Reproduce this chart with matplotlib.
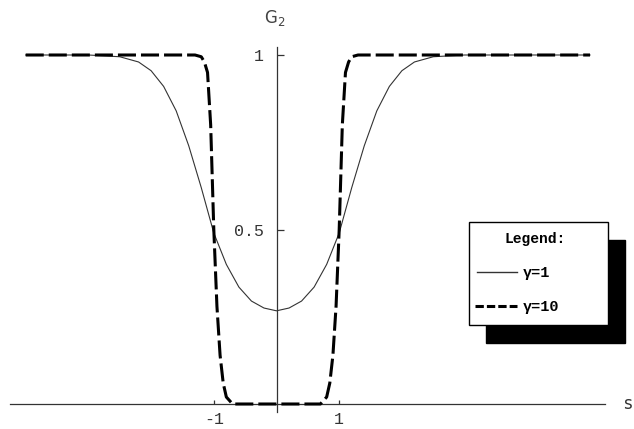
import matplotlib
matplotlib.use("Agg")
import matplotlib.pyplot as plt
from matplotlib.patches import Rectangle
from matplotlib.lines import Line2D

# =========================
# Data
# =========================
s_gamma1 = [-4.0, -3.0, -2.5, -2.2, -2.0, -1.8, -1.6, -1.4, -1.2, -1.0,
            -0.8, -0.6, -0.4, -0.2, 0.0, 0.2, 0.4, 0.6, 0.8, 1.0,
            1.2, 1.4, 1.6, 1.8, 2.0, 2.2, 2.5, 3.0, 4.0, 5.0]
g_gamma1 = [1.0, 1.0, 0.995, 0.98, 0.955, 0.91, 0.84, 0.74, 0.62, 0.49,
            0.40, 0.335, 0.295, 0.275, 0.267, 0.275, 0.295, 0.335, 0.40, 0.49,
            0.62, 0.74, 0.84, 0.91, 0.955, 0.98, 0.995, 1.0, 1.0, 1.0]

s_gamma10 = [-4.0, -1.3, -1.2, -1.15, -1.1, -1.05, -1.0, -0.95, -0.9, -0.85,
             -0.8, -0.7, 0.0, 0.7, 0.8, 0.85, 0.9, 0.95, 1.0, 1.05,
             1.1, 1.15, 1.2, 1.3, 5.0]
g_gamma10 = [1.0, 1.0, 0.995, 0.98, 0.95, 0.8, 0.5, 0.28, 0.14, 0.06,
             0.02, 0.0, 0.0, 0.0, 0.02, 0.06, 0.14, 0.28, 0.5, 0.8,
             0.95, 0.98, 0.995, 1.0, 1.0]

x_ticks = [-1, 1]
x_ticklabels = ["-1", "1"]
y_ticks = [0.5, 1]
y_ticklabels = ["0.5", "1"]
series_labels = ["\u03b3=1", "\u03b3=10"]

W, H = 634, 429
mono = ["Liberation Mono", "DejaVu Sans Mono"]
dark = "#333333"

plt.rcParams["lines.scale_dashes"] = False

fig = plt.figure(figsize=(W / 100, H / 100), dpi=100)
ax = fig.add_axes([0, 0, 1, 1])

# pixel mapping: s=0 at x=276.5, 62.7 px per unit; G=0 at y=404, 349 px per unit
ax.set_xlim(-276.5 / 62.7, (W - 276.5) / 62.7)
ax.set_ylim(-(H - 404) / 349, 404 / 349)
ax.patch.set_alpha(0)

ax.plot(s_gamma1, g_gamma1, color=dark, lw=0.8, zorder=3)
ax.plot(s_gamma10, g_gamma10, color="black", lw=2.2, dashes=(13, 3.6),
        solid_capstyle="butt", zorder=3)

# axes through the origin
for side in ["top", "right"]:
    ax.spines[side].set_visible(False)
ax.spines["left"].set_position(("data", 0))
ax.spines["bottom"].set_position(("data", 0))
ax.spines["left"].set_bounds(-8 / 349, 357 / 349)
ax.spines["bottom"].set_bounds((10 - 276.5) / 62.7, (605 - 276.5) / 62.7)
for side in ["left", "bottom"]:
    ax.spines[side].set_color(dark)
    ax.spines[side].set_linewidth(0.9)

ax.set_xticks(x_ticks)
ax.set_xticklabels(x_ticklabels, family=mono, fontsize=12, color=dark)
ax.set_yticks(y_ticks)
ax.set_yticklabels(y_ticklabels, family=mono, fontsize=12, color=dark)
ax.tick_params(axis="x", direction="in", length=3, width=0.9, color=dark, pad=6)
ax.tick_params(axis="y", direction="in", length=5, width=0.9, color=dark, pad=9)

# axis labels at the ends of the axes
ax.annotate("G$_2$", xy=(0, 357 / 349), xytext=(-1, 21), textcoords="offset points",
            ha="center", va="center", fontsize=12, color="#444444")
ax.annotate("s", xy=((605 - 276.5) / 62.7, 0), xytext=(16.5, 0), textcoords="offset points",
            ha="center", va="center", fontsize=12, color=dark)


# =========================
# Legend box with shadow
# =========================
def fx(px):
    return px / W


def fy(py):
    return (H - py) / H


fig.patches.append(Rectangle((fx(486), fy(343)), (625 - 486) / W, (343 - 240) / H,
                             transform=fig.transFigure, facecolor="black",
                             edgecolor="black", zorder=5))
fig.patches.append(Rectangle((fx(469), fy(325)), (608 - 469) / W, (325 - 222) / H,
                             transform=fig.transFigure, facecolor="white",
                             edgecolor="black", lw=1.0, zorder=6))
fig.text(fx(535), fy(239), "Legend:", family=mono, fontweight="bold", fontsize=10.5,
         ha="center", va="center", zorder=7)
fig.lines.append(Line2D([fx(477), fx(517)], [fy(272), fy(272)], transform=fig.transFigure,
                        color=dark, lw=1.0, zorder=7))
fig.lines.append(Line2D([fx(475), fx(517)], [fy(306), fy(306)], transform=fig.transFigure,
                        color="black", lw=2.2, dashes=(6, 2.2), solid_capstyle="butt", zorder=7))
fig.text(fx(523), fy(273), series_labels[0], family=mono, fontweight="bold", fontsize=11,
         ha="left", va="center", zorder=7)
fig.text(fx(523), fy(307), series_labels[1], family=mono, fontweight="bold", fontsize=11,
         ha="left", va="center", zorder=7)

fig.savefig("out.png", dpi=100, facecolor="white")
